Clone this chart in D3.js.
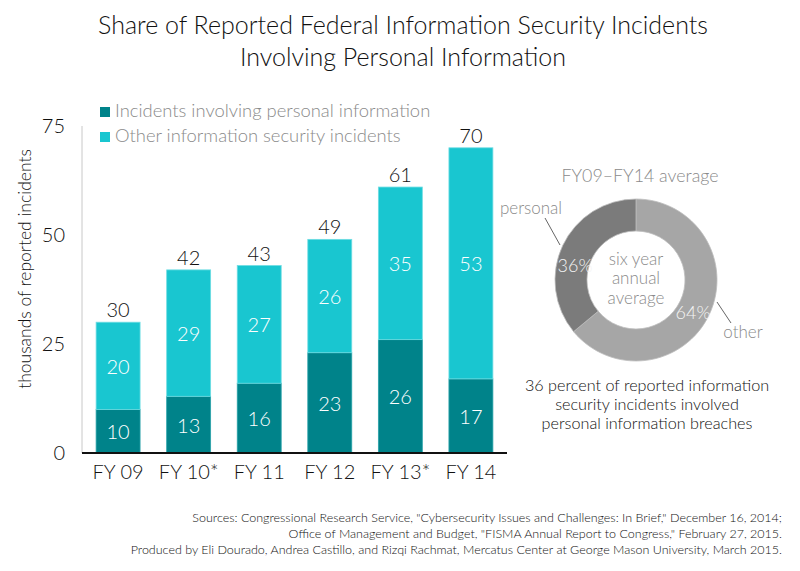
<!DOCTYPE html>
<html>
<head>
<meta charset="utf-8">
<script src="https://cdn.jsdelivr.net/npm/d3@7"></script>
<style>
  body { margin: 0; background: #fff; }
  svg { font-family: Lato, "Open Sans", sans-serif; font-weight: 300; }
</style>
</head>
<body>
<div id="chart"></div>
<script>
const years = ['FY 09', 'FY 10*', 'FY 11', 'FY 12', 'FY 13*', 'FY 14'];
const personal = [10, 13, 16, 23, 26, 17];
const other = [20, 29, 27, 26, 35, 53];
const totals = [30, 42, 43, 49, 61, 70];
const yTicks = [0, 25, 50, 75];
const seriesNames = ['Incidents involving personal information', 'Other information security incidents'];
const pieLabels = ['other', 'personal'];
const pieShares = [64, 36];
const sources = [
    'Sources: Congressional Research Service, "Cybersecurity Issues and Challenges: In Brief," December 16, 2014;',
    'Office of Management and Budget, "FISMA Annual Report to Congress," February 27, 2015.',
    'Produced by Eli Dourado, Andrea Castillo, and Rizqi Rachmat, Mercatus Center at George Mason University, March 2015.'
];

const width = 800;
const height = 571;
const darkTeal = '#00838a';
const lightTeal = '#19c6d0';

const svg = d3.select('#chart')
    .append('svg')
    .attr('width', width)
    .attr('height', height);

// title
svg.append('g')
    .attr('font-size', '25px')
    .attr('fill', '#111')
    .attr('text-anchor', 'middle')
    .selectAll('text')
    .data(['Share of Reported Federal Information Security Incidents', 'Involving Personal Information'])
    .join('text')
    .attr('x', 403)
    .attr('y', (d, i) => 34 + i * 32)
    .text(d => d);

// bar chart
const x = d3.scaleBand()
    .domain(d3.range(years.length))
    .range([82, 507])
    .paddingInner(0.377)
    .paddingOuter(0.2);

const y = d3.scaleLinear()
    .domain([0, 75])
    .range([453, 126]);

svg.append('line')
    .attr('x1', 82).attr('x2', 82)
    .attr('y1', y(75)).attr('y2', y(0))
    .attr('stroke', '#c8c8c8')
    .attr('stroke-width', 1);

const yAxis = svg.append('g')
    .attr('transform', 'translate(82,0)')
    .call(d3.axisLeft(y).tickValues(yTicks).tickSize(0).tickPadding(17));
yAxis.select('.domain').remove();
yAxis.selectAll('text')
    .attr('font-size', '20px')
    .attr('font-family', 'Lato, sans-serif')
    .attr('fill', '#111');

svg.append('text')
    .attr('transform', 'translate(31,269) rotate(-90)')
    .attr('text-anchor', 'middle')
    .attr('font-size', '17.5px')
    .attr('fill', '#111')
    .text('thousands of reported incidents');

const bars = svg.append('g');

bars.selectAll('rect.personal')
    .data(personal)
    .join('rect')
    .attr('class', 'personal')
    .attr('x', (d, i) => x(i))
    .attr('y', d => y(d))
    .attr('width', x.bandwidth())
    .attr('height', d => y(0) - y(d))
    .attr('fill', darkTeal)
    .attr('stroke', '#2aa3aa')
    .attr('stroke-width', 0.8);

bars.selectAll('rect.other')
    .data(other)
    .join('rect')
    .attr('class', 'other')
    .attr('x', (d, i) => x(i))
    .attr('y', (d, i) => y(personal[i] + d))
    .attr('width', x.bandwidth())
    .attr('height', (d, i) => y(personal[i]) - y(personal[i] + d))
    .attr('fill', lightTeal)
    .attr('stroke', '#6fdde3')
    .attr('stroke-width', 0.8);

const barLabels = svg.append('g')
    .attr('font-size', '20px')
    .attr('text-anchor', 'middle')
    .attr('dominant-baseline', 'central');

barLabels.selectAll('text.personal')
    .data(personal)
    .join('text')
    .attr('class', 'personal')
    .attr('x', (d, i) => x(i) + x.bandwidth() / 2)
    .attr('y', d => (y(0) + y(d)) / 2)
    .attr('fill', '#fff')
    .text(d => d);

barLabels.selectAll('text.other')
    .data(other)
    .join('text')
    .attr('class', 'other')
    .attr('x', (d, i) => x(i) + x.bandwidth() / 2)
    .attr('y', (d, i) => (y(personal[i]) + y(personal[i] + d)) / 2)
    .attr('fill', '#fff')
    .text(d => d);

svg.append('g')
    .attr('font-size', '20px')
    .attr('text-anchor', 'middle')
    .attr('fill', '#111')
    .selectAll('text')
    .data(totals)
    .join('text')
    .attr('x', (d, i) => x(i) + x.bandwidth() / 2)
    .attr('y', d => y(d) - 5)
    .text(d => d);

const xAxis = svg.append('g')
    .attr('transform', `translate(0,${y(0)})`)
    .call(d3.axisBottom(x).tickSize(0).tickPadding(12).tickFormat(i => years[i]));
xAxis.select('.domain')
    .attr('d', 'M82,0H507')
    .attr('stroke', '#111')
    .attr('stroke-width', 2);
xAxis.selectAll('text')
    .attr('font-size', '20px')
    .attr('font-family', 'Lato, sans-serif')
    .attr('fill', '#111');

// legend
const legend = svg.append('g')
    .selectAll('g')
    .data(seriesNames)
    .join('g')
    .attr('transform', (d, i) => `translate(100,${107 + i * 25})`);
legend.append('rect')
    .attr('width', 10)
    .attr('height', 10)
    .attr('fill', (d, i) => i === 0 ? darkTeal : lightTeal);
legend.append('text')
    .attr('x', 15)
    .attr('y', 10)
    .attr('font-size', '18.4px')
    .attr('fill', '#8a8a8a')
    .text(d => d);

// donut
const cx = 636, cy = 280;
const pie = d3.pie().sort(null)(pieShares);
const arc = d3.arc().innerRadius(49).outerRadius(81);
const donut = svg.append('g').attr('transform', `translate(${cx},${cy})`);

donut.selectAll('path')
    .data(pie)
    .join('path')
    .attr('d', arc)
    .attr('fill', (d, i) => i === 0 ? '#a6a6a6' : '#7b7b7b')
    .attr('stroke', '#bdbdbd')
    .attr('stroke-width', 0.8);

donut.selectAll('text.pct')
    .data(pie)
    .join('text')
    .attr('class', 'pct')
    .attr('transform', (d, i) => i === 0 ? 'translate(57,32)' : 'translate(-61,-15)')
    .attr('text-anchor', 'middle')
    .attr('dominant-baseline', 'central')
    .attr('font-size', '18px')
    .attr('fill', '#f4f4f4')
    .text(d => d.data + '%');

donut.append('g')
    .attr('font-size', '17px')
    .attr('fill', '#8a8a8a')
    .attr('text-anchor', 'middle')
    .selectAll('text')
    .data(['six year', 'annual', 'average'])
    .join('text')
    .attr('y', (d, i) => -22 + i * 19.5)
    .attr('dominant-baseline', 'central')
    .text(d => d);

svg.append('text')
    .attr('x', 640)
    .attr('y', 182)
    .attr('text-anchor', 'middle')
    .attr('font-size', '17.8px')
    .attr('fill', '#8a8a8a')
    .text('FY09\u2013FY14 average');

// leader lines
svg.append('line')
    .attr('x1', 545).attr('y1', 218).attr('x2', 560).attr('y2', 245)
    .attr('stroke', '#666').attr('stroke-width', 1);
svg.append('line')
    .attr('x1', 717).attr('y1', 302).attr('x2', 731).attr('y2', 323)
    .attr('stroke', '#666').attr('stroke-width', 1);
svg.append('text')
    .attr('x', 531).attr('y', 214)
    .attr('text-anchor', 'middle')
    .attr('font-size', '17px')
    .attr('fill', '#8a8a8a')
    .text(pieLabels[1]);
svg.append('text')
    .attr('x', 743).attr('y', 338)
    .attr('text-anchor', 'middle')
    .attr('font-size', '17px')
    .attr('fill', '#8a8a8a')
    .text(pieLabels[0]);

svg.append('g')
    .attr('font-size', '16.2px')
    .attr('fill', '#111')
    .attr('text-anchor', 'middle')
    .selectAll('text')
    .data(['36 percent of reported information', 'security incidents involved', 'personal information breaches'])
    .join('text')
    .attr('x', 647)
    .attr('y', (d, i) => 391 + i * 19)
    .text(d => d);

// sources
svg.append('g')
    .attr('font-size', '12.5px')
    .attr('fill', '#111')
    .attr('text-anchor', 'end')
    .selectAll('text')
    .data(sources)
    .join('text')
    .attr('x', 782)
    .attr('y', (d, i) => 522 + i * 16)
    .text(d => d);
</script>
</body>
</html>
